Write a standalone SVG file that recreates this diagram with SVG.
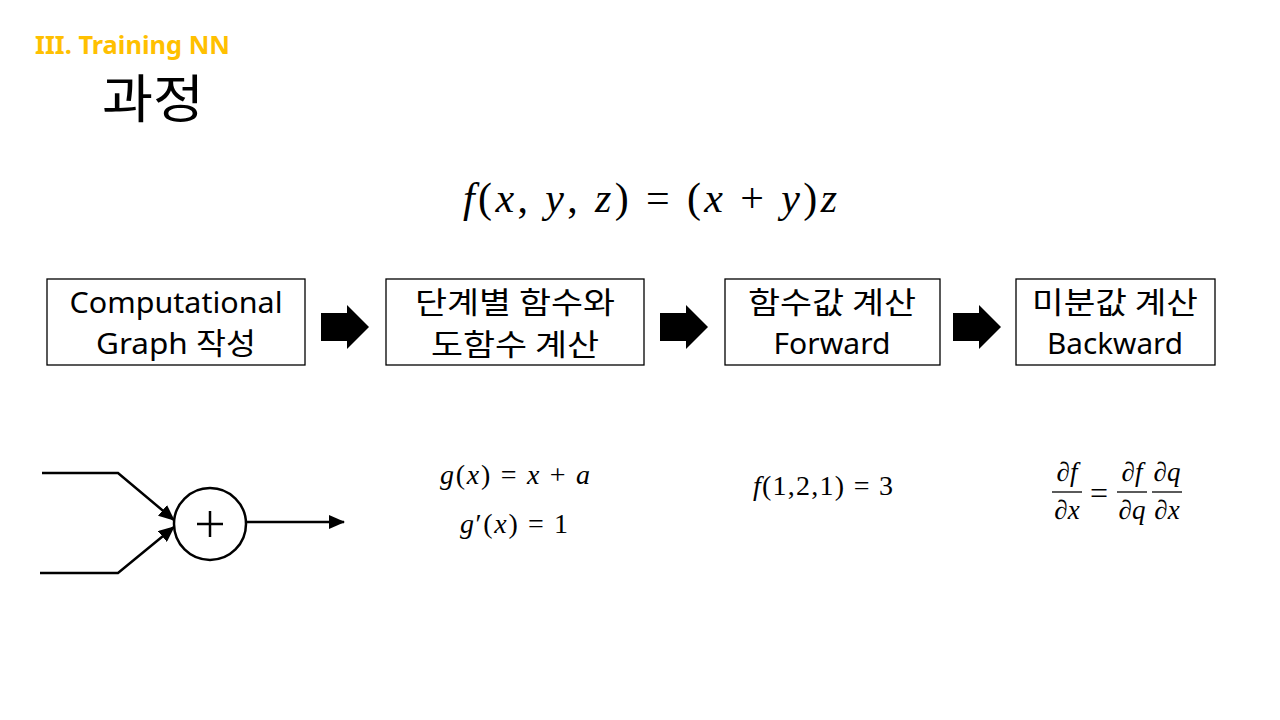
<svg xmlns="http://www.w3.org/2000/svg" width="1280" height="720" viewBox="0 0 1280 720">
<style>
.box{fill:#fff;stroke:#000;stroke-width:1.3}
.bt{font-family:"Noto Sans","Noto Sans CJK KR",sans-serif;font-size:29px;fill:#000;text-anchor:middle}
.k{font-family:"Noto Sans CJK KR",sans-serif;font-size:30px}
.m{font-family:"Liberation Serif","DejaVu Serif",serif;fill:#000}
.i{font-style:italic}
.ln{stroke:#000;stroke-width:2.5;fill:none}
</style>
<defs>
<marker id="ah" markerWidth="16" markerHeight="14" refX="15" refY="7" orient="auto" markerUnits="userSpaceOnUse" viewBox="0 0 16 14">
<path d="M0,0 L16,7 L0,14 Z" fill="#000"/>
</marker>
<polygon id="blk" points="0,8 26,8 26,0 48,22 26,44 26,36 0,36" fill="#000"/>
</defs>
<rect width="1280" height="720" fill="#fff"/>
<text x="35" y="54" font-family="'Noto Sans','Open Sans',sans-serif" font-weight="bold" font-size="25" fill="#FFC000" textLength="195" lengthAdjust="spacingAndGlyphs">III. Training NN</text>
<text x="102" y="118" font-family="'Noto Sans CJK KR',sans-serif" font-size="52" fill="#000" textLength="102" lengthAdjust="spacingAndGlyphs">과정</text>
<text class="m" x="463" y="212" font-size="42" textLength="374" lengthAdjust="spacing"><tspan class="i">f</tspan>(<tspan class="i">x</tspan>, <tspan class="i">y</tspan>, <tspan class="i">z</tspan>) = (<tspan class="i">x</tspan> + <tspan class="i">y</tspan>)<tspan class="i">z</tspan></text>
<g id="node1"><rect class="box" x="47" y="279" width="258" height="86"/><text class="bt" x="176" y="313" textLength="213" lengthAdjust="spacingAndGlyphs">Computational</text><text class="bt" x="176" y="354" textLength="160" lengthAdjust="spacingAndGlyphs">Graph <tspan class="k">작성</tspan></text></g>
<g id="node2"><rect class="box" x="386" y="279" width="258" height="86"/><text class="bt k" x="515" y="313" textLength="200" lengthAdjust="spacingAndGlyphs">단계별 함수와</text><text class="bt k" x="515" y="355" textLength="168" lengthAdjust="spacingAndGlyphs">도함수 계산</text></g>
<g id="node3"><rect class="box" x="725" y="279" width="215" height="86"/><text class="bt k" x="832" y="313" textLength="168" lengthAdjust="spacingAndGlyphs">함수값 계산</text><text class="bt" x="832" y="354" textLength="117" lengthAdjust="spacingAndGlyphs">Forward</text></g>
<g id="node4"><rect class="box" x="1016" y="279" width="199" height="86"/><text class="bt k" x="1115" y="313" textLength="166" lengthAdjust="spacingAndGlyphs">미분값 계산</text><text class="bt" x="1115" y="354" textLength="136" lengthAdjust="spacingAndGlyphs">Backward</text></g>
<g id="connectors">
<use href="#blk" x="321" y="305"/>
<use href="#blk" x="660" y="305"/>
<use href="#blk" x="953" y="305"/>
<polyline class="ln" points="42,473 118,473 174,520" marker-end="url(#ah)"/>
<polyline class="ln" points="40,573 118,573 174,527" marker-end="url(#ah)"/>
<line class="ln" x1="247" y1="522" x2="344" y2="522" marker-end="url(#ah)"/>
</g>
<g id="plus">
<circle cx="210" cy="524" r="36" fill="#fff" stroke="#000" stroke-width="2.5"/>
<line x1="197" y1="524" x2="223" y2="524" stroke="#000" stroke-width="2.5"/>
<line x1="210" y1="511" x2="210" y2="537" stroke="#000" stroke-width="2.5"/>
</g>
<text class="m" x="440" y="484" font-size="28" textLength="150" lengthAdjust="spacing"><tspan class="i">g</tspan>(<tspan class="i">x</tspan>) = <tspan class="i">x</tspan> + <tspan class="i">a</tspan></text>
<text class="m" x="460" y="533" font-size="28" textLength="108" lengthAdjust="spacing"><tspan class="i">g</tspan>′(<tspan class="i">x</tspan>) = 1</text>
<text class="m" x="753" y="495" font-size="28" textLength="140" lengthAdjust="spacing"><tspan class="i">f</tspan>(1,2,1) = 3</text>
<g id="frac" class="m" font-size="27">
<text class="i" x="1067" y="481" text-anchor="middle">∂f</text>
<line x1="1052" y1="492" x2="1082" y2="492" stroke="#000" stroke-width="1.3"/>
<text class="i" x="1067" y="519" text-anchor="middle">∂x</text>
<text x="1099" y="504" text-anchor="middle" font-size="32">=</text>
<text class="i" x="1132" y="481" text-anchor="middle">∂f</text>
<line x1="1117" y1="492" x2="1147" y2="492" stroke="#000" stroke-width="1.3"/>
<text class="i" x="1132" y="519" text-anchor="middle">∂q</text>
<text class="i" x="1167" y="481" text-anchor="middle">∂q</text>
<line x1="1152" y1="492" x2="1182" y2="492" stroke="#000" stroke-width="1.3"/>
<text class="i" x="1167" y="519" text-anchor="middle">∂x</text>
</g>
</svg>
